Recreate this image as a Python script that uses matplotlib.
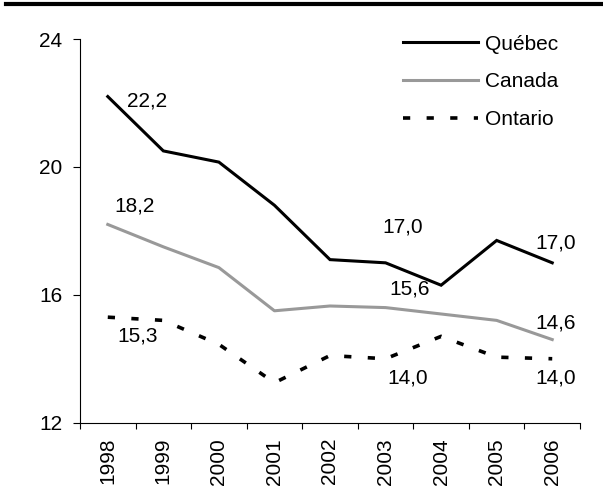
import matplotlib
matplotlib.use("Agg")
import matplotlib.pyplot as plt
from matplotlib.lines import Line2D

plt.rcParams['font.family'] = ['Liberation Sans', 'DejaVu Sans']
plt.rcParams['lines.scale_dashes'] = False

years = ["1998", "1999", "2000", "2001", "2002", "2003", "2004", "2005", "2006"]
quebec = [22.2, 20.5, 20.15, 18.8, 17.1, 17.0, 16.3, 17.7, 17.0]
canada = [18.2, 17.5, 16.85, 15.5, 15.65, 15.6, 15.4, 15.2, 14.6]
ontario = [15.3, 15.2, 14.45, 13.25, 14.1, 14.0, 14.7, 14.05, 14.0]
series_names = ["Québec", "Canada", "Ontario"]
y_ticks = [12, 16, 20, 24]

FS = 15
fig = plt.figure(figsize=(6.03, 4.97), dpi=100)
ax = fig.add_axes([80/603, 1-422.7/497, 500/603, (422.7-39)/497])

x = list(range(len(years)))
lq, = ax.plot(x, quebec, color='black', lw=2.2, label=series_names[0], solid_joinstyle='miter')
lc, = ax.plot(x, canada, color='#999999', lw=2.2, label=series_names[1])
lo, = ax.plot(x, ontario, color='black', lw=2.6, label=series_names[2], dashes=(5.2, 11.8))

ax.set_xlim(-0.5, len(years) - 0.5)
ax.set_ylim(12, 24)
ax.set_yticks(y_ticks)
ax.set_yticklabels([str(v) for v in y_ticks], fontsize=FS)
ax.tick_params(axis='y', direction='out', length=4.8, width=0.8, pad=8)

ax.set_xticks([i - 0.5 for i in range(len(years) + 1)])
ax.set_xticklabels([])
ax.tick_params(axis='x', which='major', direction='out', length=4, width=0.8)
ax.set_xticks(x, minor=True)
ax.set_xticklabels(years, minor=True, rotation=90, fontsize=FS)
ax.tick_params(axis='x', which='minor', length=0, pad=11)

for s in ['top', 'right']:
    ax.spines[s].set_visible(False)
for s in ['left', 'bottom']:
    ax.spines[s].set_linewidth(0.8)

def fmt(v):
    return f"{v:.1f}".replace('.', ',')

# data labels: (series, index, offset pixels, ha)
labels = [
    (quebec, 0, (19, -4.5), 'left'),
    (canada, 0, (27, 18), 'center'),
    (ontario, 0, (30, -19), 'center'),
    (quebec, 5, (17, 36), 'center'),
    (canada, 5, (24, 18.5), 'center'),
    (ontario, 5, (22, -19), 'center'),
    (quebec, 8, (3, 20), 'center'),
    (canada, 8, (3, 16.5), 'center'),
    (ontario, 8, (3, -19), 'center'),
]
for ser, i, off, ha in labels:
    ax.annotate(fmt(ser[i]), (i, ser[i]), xytext=off, textcoords='offset pixels',
                ha=ha, va='center', fontsize=FS)

leg = ax.legend(handles=[lq, lc, lo], loc='upper left',
                bbox_to_anchor=(403/603, 1-34.5/497), bbox_transform=fig.transFigure,
                frameon=False, fontsize=FS, handlelength=3.6, handletextpad=0.34,
                labelspacing=0.9, borderpad=0, borderaxespad=0)

fig.add_artist(Line2D([6/603, 1], [1-4/497, 1-4/497], transform=fig.transFigure,
                      color='black', lw=3))

fig.savefig("out.png", dpi=100)
